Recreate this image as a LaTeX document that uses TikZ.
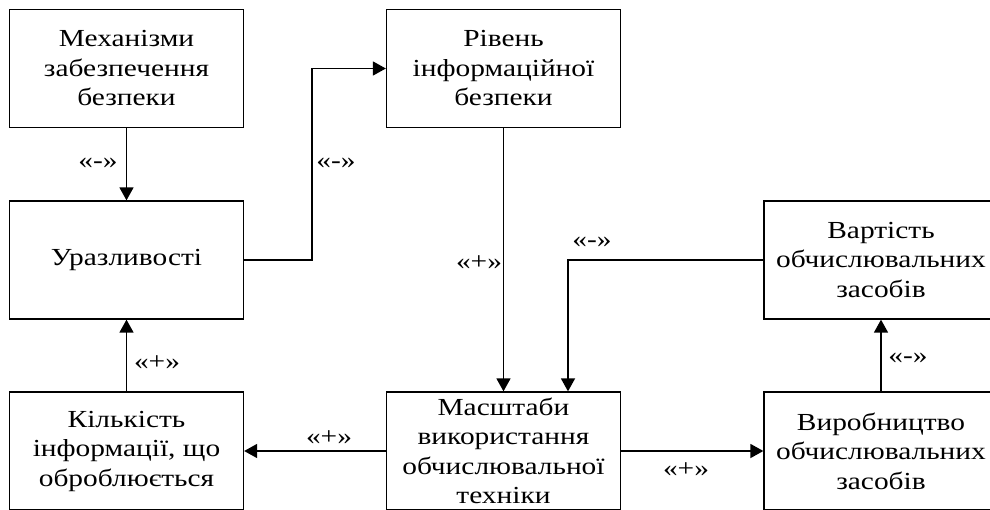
\documentclass[tikz,border=0pt]{standalone}
\usepackage{fontspec}
\setmainfont[FakeStretch=1.2]{Liberation Serif}
\usetikzlibrary{arrows.meta}
\begin{document}
\begin{tikzpicture}[x=1pt,y=-1pt,
  box/.style={draw, line width=1.3pt, minimum width=234pt, minimum height=118pt, inner sep=0pt, align=center, font=\fontsize{24.5}{29.5}\selectfont},
  conn/.style={line width=1.6pt, -{Triangle[length=13pt,width=14pt]}},
  lbl/.style={font=\fontsize{24.5}{26}\selectfont, inner sep=0pt}]
\useasboundingbox (0,0) rectangle (990,509);
\node[box] (mech) at (126.5,68.5) {Механізми\\забезпечення\\безпеки};
\node[box] (riv) at (503.5,68.5) {Рівень\\інформаційної\\безпеки};
\node[box] (uraz) at (126.5,260) {Уразливості};
\node[box] (vart) at (881,260) {Вартість\\обчислювальних\\засобів};
\node[box] (kilk) at (126.5,451) {Кількість\\інформації, що\\оброблюється};
\node[box] (masht) at (503.5,451) {Масштаби\\використання\\обчислювальної\\техніки};
\node[box] (vyrob) at (881,451) {Виробництво\\обчислювальних\\засобів};
\coordinate (c1) at (312,260);
\coordinate (c2) at (312,68.5);
\coordinate (c3) at (568,260);
\draw[conn] (mech) -- (uraz);
\draw[conn] (uraz.east) -- (c1) -- (c2) -- (riv.west);
\draw[conn] (riv) -- (masht);
\draw[conn] (vart.west) -- (c3) -- (masht.north -| c3);
\draw[conn] (vyrob) -- (vart);
\draw[conn] (kilk) -- (uraz);
\draw[conn] (masht.west) -- (kilk.east);
\draw[conn] (masht.east) -- (vyrob.west);
\node[lbl] (l1) at (98,163) {«-»};
\node[lbl] (l2) at (336,163) {«-»};
\node[lbl] (l3) at (479,263) {«+»};
\node[lbl] (l4) at (592,242) {«-»};
\node[lbl] (l5) at (908,358) {«-»};
\node[lbl] (l6) at (157,363) {«+»};
\node[lbl] (l7) at (329,438) {«+»};
\node[lbl] (l8) at (686,470) {«+»};
\end{tikzpicture}
\end{document}
